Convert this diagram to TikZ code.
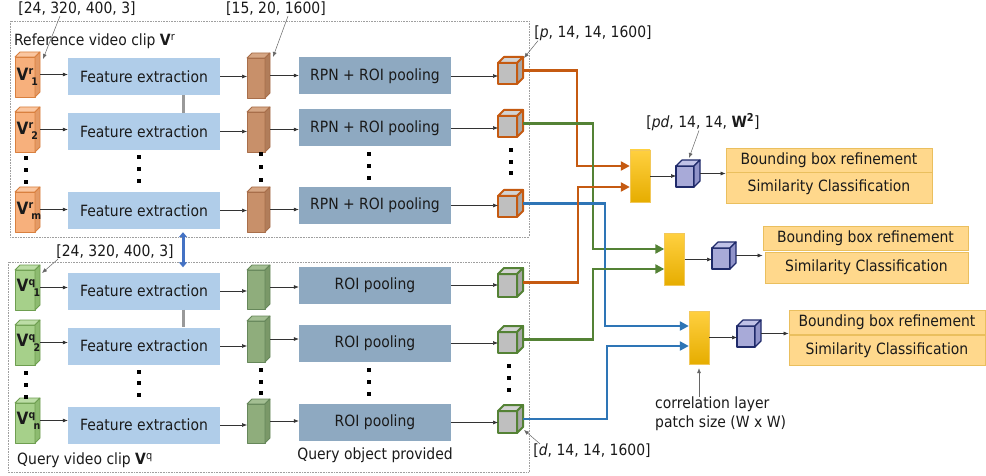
\documentclass[tikz,border=0pt]{standalone}
\usepackage{fontspec}
\setmainfont{DejaVu Sans Condensed}
\usetikzlibrary{arrows.meta,fit}
\definecolor{feC}{HTML}{B0CDE9}
\definecolor{rpC}{HTML}{8EA9C1}
\definecolor{orF}{HTML}{F7B07C}\definecolor{orT}{HTML}{FAC6A0}\definecolor{orS}{HTML}{E39A66}\definecolor{orB}{HTML}{D9803F}
\definecolor{brF}{HTML}{C8906A}\definecolor{brT}{HTML}{D6A684}\definecolor{brS}{HTML}{B17D5A}\definecolor{brB}{HTML}{A86E4A}
\definecolor{giF}{HTML}{A6D08A}\definecolor{giT}{HTML}{BCDDA6}\definecolor{giS}{HTML}{8DBB70}\definecolor{giB}{HTML}{6E9E50}
\definecolor{gfF}{HTML}{8FAD7C}\definecolor{gfT}{HTML}{A3BE92}\definecolor{gfS}{HTML}{7A9868}\definecolor{gfB}{HTML}{66875A}
\definecolor{smF}{HTML}{BFBFBF}\definecolor{smT}{HTML}{D3D3D3}\definecolor{smS}{HTML}{A8A8A8}
\definecolor{oLine}{HTML}{C55A11}\definecolor{gLine}{HTML}{548235}\definecolor{bLine}{HTML}{2E75B6}
\definecolor{blF}{HTML}{A8AAD8}\definecolor{blT}{HTML}{C0C2E7}\definecolor{blS}{HTML}{9093C9}\definecolor{blB}{HTML}{1F2A6A}
\definecolor{outF}{HTML}{FFD88C}\definecolor{outB}{HTML}{EABF5E}
\definecolor{dblC}{HTML}{4472C4}
\definecolor{txtC}{HTML}{1A1A1A}
\definecolor{ybT}{HTML}{FFD040}\definecolor{ybM}{HTML}{FFC000}\definecolor{ybB}{HTML}{E6AD00}\definecolor{ybD}{HTML}{F2C85A}
\newcommand\cuboid[7]{%
  \node[fit={(#2,#3) (#4,#5)}, inner sep=0pt, outer sep=0pt] (#1) {};
  \filldraw[#7, #7 front] ([yshift=-#6pt]#1.north west) rectangle ([xshift=-#6pt]#1.south east);
  \filldraw[#7, #7 top] ([yshift=-#6pt]#1.north west) -- ([xshift=#6pt]#1.north west) -- (#1.north east) -- ([xshift=-#6pt,yshift=-#6pt]#1.north east) -- cycle;
  \filldraw[#7, #7 side] ([xshift=-#6pt,yshift=-#6pt]#1.north east) -- (#1.north east) -- ([yshift=#6pt]#1.south east) -- ([xshift=-#6pt]#1.south east) -- cycle;
}
\newcommand\Vlab[2]{{\fontsize{17}{18}\selectfont\textbf{V}}\raisebox{6.5pt}{\fontsize{10.5}{11}\selectfont\textbf{#1}}\kern-1.8pt\raisebox{-4.5pt}{\fontsize{10.5}{11}\selectfont\textbf{#2}}}
\begin{document}
\begin{tikzpicture}[x=1pt,y=-1pt,
  font=\fontsize{15.5}{18}\selectfont, text=txtC,
  frame/.style={draw=gray!75, densely dotted, line width=0.6pt},
  fe/.style={fill=feC, minimum width=152pt, minimum height=37pt, inner sep=0pt},
  rp/.style={fill=rpC, minimum width=152pt, minimum height=37pt, inner sep=0pt},
  yb/.style={minimum width=20pt, minimum height=52pt, inner sep=0pt, top color=ybT, middle color=ybM, bottom color=ybB, draw=ybD, line width=0.4pt},
  outbox/.style={fill=outF, draw=outB, line width=0.8pt, inner sep=0pt},
  lbl/.style={inner sep=0pt},
  vlab/.style={inner sep=0pt, anchor=west},
  ar/.style={draw=black!80, line width=0.6pt, -{Latex[length=5pt,width=4pt]}},
  la/.style={draw=black!60, line width=0.5pt, -{Latex[length=5pt,width=4pt]}},
  bar/.style={draw=gray!80, line width=3pt},
  dot/.style={fill=black},
  orl/.style={draw=oLine, line width=2.8pt, -{Triangle[length=9pt,width=9pt]}},
  grl/.style={draw=gLine, line width=2.8pt, -{Triangle[length=9pt,width=9pt]}},
  bll/.style={draw=bLine, line width=2.8pt, -{Triangle[length=9pt,width=9pt]}},
  dbl/.style={draw=dblC, line width=3pt, {Triangle[length=5pt,width=8pt]}-{Triangle[length=5pt,width=8pt]}},
  orc/.style={draw=orB, line width=0.8pt, line join=round}, orc front/.style={fill=orF}, orc top/.style={fill=orT}, orc side/.style={fill=orS},
  brc/.style={draw=brB, line width=0.8pt, line join=round}, brc front/.style={fill=brF}, brc top/.style={fill=brT}, brc side/.style={fill=brS},
  gic/.style={draw=giB, line width=0.8pt, line join=round}, gic front/.style={fill=giF}, gic top/.style={fill=giT}, gic side/.style={fill=giS},
  gfc/.style={draw=gfB, line width=0.8pt, line join=round}, gfc front/.style={fill=gfF}, gfc top/.style={fill=gfT}, gfc side/.style={fill=gfS},
  osc/.style={draw=oLine, line width=2pt, line join=round}, osc front/.style={fill=smF}, osc top/.style={fill=smT}, osc side/.style={fill=smS},
  gsc/.style={draw=gLine, line width=2pt, line join=round}, gsc front/.style={fill=smF}, gsc top/.style={fill=smT}, gsc side/.style={fill=smS},
  blc/.style={draw=blB, line width=1.2pt, line join=round}, blc front/.style={fill=blF}, blc top/.style={fill=blT}, blc side/.style={fill=blS},
]
\useasboundingbox (0,0) rectangle (986,476);
\fill[white] (0,0) rectangle (986,476);
% frames
\draw[frame] (10,21) rectangle (529,237);
\draw[frame] (8,262) rectangle (529,472);

% ---------- reference clip ----------
\cuboid{ri1}{15}{52}{40}{97}{5}{orc}
\cuboid{ri2}{15}{107}{40}{152}{5}{orc}
\cuboid{rim}{15}{187}{40}{232}{5}{orc}
\node[vlab] (vr1) at (16.5,77) {\Vlab{r}{1}};
\node[vlab] (vr2) at (16.5,131) {\Vlab{r}{2}};
\node[vlab] (vrm) at (16.5,211) {\Vlab{r}{m}};

\node[fe] (fe1) at (144,76.5) {Feature extraction};
\node[fe] (fe2) at (144,131.5) {Feature extraction};
\node[fe] (fem) at (144,210.5) {Feature extraction};

\cuboid{rb1}{247}{53}{270}{98}{5}{brc}
\cuboid{rb2}{247}{107}{270}{152}{5}{brc}
\cuboid{rbm}{247}{187}{270}{232}{5}{brc}

\node[rp] (rp1) at (375,76) {RPN + ROI pooling};
\node[rp] (rp2) at (375,128) {RPN + ROI pooling};
\node[rp] (rpm) at (375,205.5) {RPN + ROI pooling};

\cuboid{rs1}{498}{57}{523}{84}{6}{osc}
\cuboid{rs2}{498}{110}{523}{137}{6}{osc}
\cuboid{rsm}{498}{190}{523}{217}{6}{osc}

\foreach \r in {1,2,m}{
  \draw[ar] (ri\r.east) -- (ri\r.east -| fe\r.west);
  \draw[ar] (fe\r.east) -- (fe\r.east -| rb\r.west);
  \draw[ar] (rb\r.east) -- (rb\r.east -| rp\r.west);
  \draw[ar] (rp\r.east) -- (rp\r.east -| rs\r.west);
}
\draw[bar] ([xshift=39pt]fe1.south) -- ([xshift=39pt]fe2.north);

% ---------- query clip ----------
\cuboid{qi1}{15}{265}{40}{310}{5}{gic}
\cuboid{qi2}{15}{320}{40}{365}{5}{gic}
\cuboid{qin}{15}{398}{40}{443}{5}{gic}
\node[vlab] (vq1) at (16.5,288) {\Vlab{q}{1}};
\node[vlab] (vq2) at (16.5,343) {\Vlab{q}{2}};
\node[vlab] (vqn) at (16.5,421) {\Vlab{q}{n}};

\node[fe] (qfe1) at (144,291) {Feature extraction};
\node[fe] (qfe2) at (144,346) {Feature extraction};
\node[fe] (qfen) at (144,425) {Feature extraction};

\cuboid{qb1}{247}{265}{270}{309}{5}{gfc}
\cuboid{qb2}{247}{316}{270}{362}{5}{gfc}
\cuboid{qbn}{247}{399}{270}{443}{5}{gfc}

\node[rp] (qr1) at (375,285) {ROI pooling};
\node[rp] (qr2) at (375,343) {ROI pooling};
\node[rp] (qrn) at (375,422.5) {ROI pooling};

\cuboid{qs1}{498}{268}{523}{297}{6}{gsc}
\cuboid{qs2}{498}{326}{523}{353}{6}{gsc}
\cuboid{qsn}{498}{405}{523}{433}{6}{gsc}

\foreach \r in {1,2,n}{
  \draw[ar] (qi\r.east) -- (qi\r.east -| qfe\r.west);
  \draw[ar] (qfe\r.east) -- (qfe\r.east -| qb\r.west);
  \draw[ar] (qb\r.east) -- (qb\r.east -| qr\r.west);
  \draw[ar] (qr\r.east) -- (qr\r.east -| qs\r.west);
}
\draw[bar] ([xshift=39pt]qfe1.south) -- ([xshift=39pt]qfe2.north);
\draw[dbl] ([xshift=39pt,yshift=-3pt]fem.south) -- ([xshift=39pt,yshift=5pt]qfe1.north);

% dots
\foreach \x/\y in {26/158,26/170,26/182, 139/157,139/169,139/181, 261/154,261/167,261/180, 369/154,369/166,369/178, 511/150,511/162,511/173,
                   26/373,26/385,26/397, 139/372,139/383,139/395, 261/370,261/382,261/393, 369/370,369/382,369/394, 509/366,509/378,509/390}
  \fill[dot] (\x-1.7,\y-1.7) rectangle ++(3.4,3.4);

% ---------- correlation part ----------
\node[yb] (y1) at (640,176) {};
\node[yb] (y2) at (674.5,259.5) {};
\node[yb, minimum height=53pt] (y3) at (699,337.5) {};

\cuboid{c1}{676}{160}{700}{187}{6}{blc}
\cuboid{c2}{712}{242}{736}{269}{6}{blc}
\cuboid{c3}{737}{320}{761}{347}{6}{blc}

\node[outbox, minimum width=206pt, minimum height=24pt] (oa1) at (829,160) {Bounding box refinement};
\node[outbox, minimum width=206pt, minimum height=31pt] (ob1) at (829,187.5) {Similarity Classification};
\node[outbox, minimum width=205pt, minimum height=24pt] (oa2) at (865.5,238) {Bounding box refinement};
\node[outbox, minimum width=203pt, minimum height=31pt] (ob2) at (866.5,267.5) {Similarity Classification};
\node[outbox, minimum width=196pt, minimum height=24pt] (oa3) at (887,322) {Bounding box refinement};
\node[outbox, minimum width=196pt, minimum height=30pt] (ob3) at (887,350) {Similarity Classification};

\draw[ar] (y1.east) -- (y1.east -| c1.west);
\draw[ar] (y2.east) -- (y2.east -| c2.west);
\draw[ar] (y3.east) -- (y3.east -| c3.west);
\draw[ar] (c1.east) -- (c1.east -| oa1.west);
\draw[ar] (c2.east) -- (c2.east -| oa2.west);
\draw[ar] (c3.east) -- (c3.east -| oa3.west);

% colored connectors
\coordinate (o1) at (577,166);
\coordinate (o2) at (578,187);
\coordinate (g1) at (593,249);
\coordinate (g2) at (593,269);
\coordinate (u1) at (605,326);
\coordinate (u2) at (607,346);
\draw[orl] (rs1.east) -| (o1) -- (o1 -| y1.west);
\draw[grl] (rs2.east) -| (g1) -- (g1 -| y2.west);
\draw[bll] (rsm.east) -| (u1) -- (u1 -| y3.west);
\draw[orl] (qs1.east) -| (o2) -- (o2 -| y1.west);
\draw[grl] (qs2.east) -| (g2) -- (g2 -| y2.west);
\draw[bll] (qsn.east) -| (u2) -- (u2 -| y3.west);

% labels
\node[lbl] (t1) at (77,9) {[24, 320, 400, 3]};
\draw[la] ([xshift=-17pt]t1.south) -- ([xshift=3pt,yshift=-7pt]ri1.north east);
\node[lbl] (t2) at (276,9) {[15, 20, 1600]};
\draw[la] ([xshift=12pt]t2.south) -- ([xshift=3pt,yshift=-4pt]rb1.north east);
\node[lbl] (t3) at (593,33) {[\textit{p}, 14, 14, 1600]};
\draw[la] ([xshift=-55pt]t3.south) -- ([xshift=1pt,yshift=-1pt]rs1.north east);
\node[lbl] (t4) at (703,122) {[\textit{pd}, 14, 14, \textbf{W\textsuperscript{2}}]};
\draw[la] ([xshift=-4pt]t4.south) -- ([xshift=1pt,yshift=2pt]c1.north);
\node[lbl] (t5) at (115,252) {[24, 320, 400, 3]};
\draw[la] ([xshift=-57pt]t5.south) -- ([xshift=2pt,yshift=-8pt]qi1.north east);
\node[lbl] (t6) at (592,451) {[\textit{d}, 14, 14, 1600]};
\draw[la] ([xshift=-52pt]t6.north) -- ([xshift=1pt,yshift=3pt]qsn.south east);
\node[lbl, align=left, anchor=north west, font=\fontsize{15.5}{19}\selectfont] (t7) at (655,397) {correlation layer\\patch size (W x W)};
\draw[la] (t7.north -| y3.south) -- ([yshift=-4pt]y3.south);
\node[lbl, anchor=west] (t8) at (14,41) {Reference video clip \textbf{V}\textsuperscript{r}};
\node[lbl, anchor=west] (t9) at (17,460) {Query video clip \textbf{V}\textsuperscript{q}};
\node[lbl] (t10) at (375,455) {Query object provided};
\end{tikzpicture}
\end{document}
